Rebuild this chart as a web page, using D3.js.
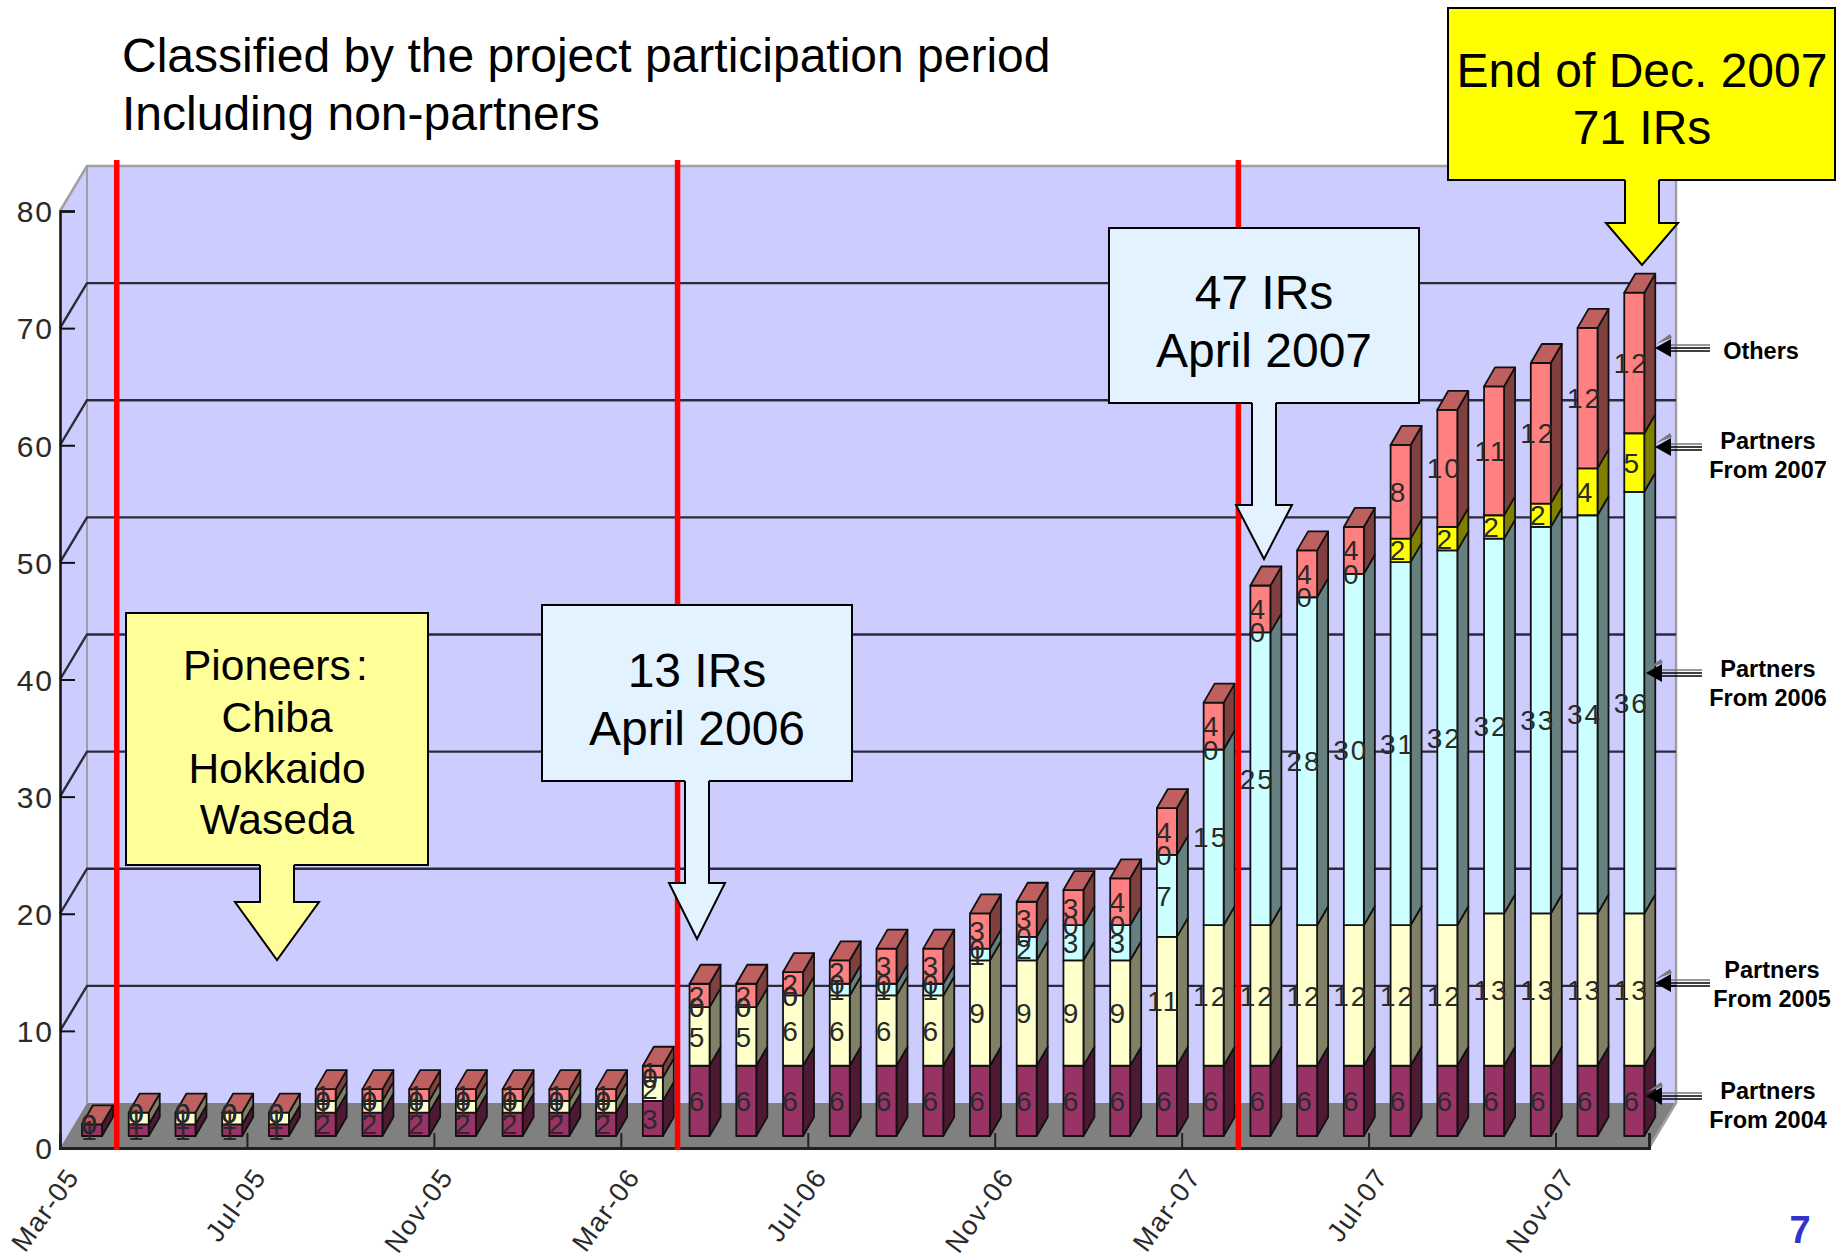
<!DOCTYPE html>
<html>
<head>
<meta charset="utf-8">
<script src="https://cdn.jsdelivr.net/npm/d3@7"></script>
<style>
  html, body { margin: 0; padding: 0; background: #fff; }
  text { font-family: "Liberation Sans", Arial, sans-serif; }
</style>
</head>
<body>
<div id="chart"></div>
<script>
const months = ["Mar-05","Apr-05","May-05","Jun-05","Jul-05","Aug-05","Sep-05","Oct-05","Nov-05","Dec-05","Jan-06","Feb-06",
                "Mar-06","Apr-06","May-06","Jun-06","Jul-06","Aug-06","Sep-06","Oct-06","Nov-06","Dec-06","Jan-07","Feb-07",
                "Mar-07","Apr-07","May-07","Jun-07","Jul-07","Aug-07","Sep-07","Oct-07","Nov-07","Dec-07"];
const from2004 = [1,1,1,1,1,2,2,2,2,2,2,2,3,6,6,6,6,6,6,6,6,6,6,6,6,6,6,6,6,6,6,6,6,6];
const from2005 = [0,1,1,1,1,1,1,1,1,1,1,1,2,5,5,6,6,6,6,9,9,9,9,11,12,12,12,12,12,12,13,13,13,13];
const from2006 = [0,0,0,0,0,0,0,0,0,0,0,0,0,0,0,0,1,1,1,1,2,3,3,7,15,25,28,30,31,32,32,33,34,36];
const from2007 = [0,0,0,0,0,0,0,0,0,0,0,0,0,0,0,0,0,0,0,0,0,0,0,0,0,0,0,0,2,2,2,2,4,5];
const others   = [0,0,0,0,0,1,1,1,1,1,1,1,1,2,2,2,2,3,3,3,3,3,4,4,4,4,4,4,8,10,11,12,12,12];
const seriesNames = ["Partners From 2004","Partners From 2005","Partners From 2006","Partners From 2007","Others"];
const yTicks = [0,10,20,30,40,50,60,70,80];
const xTickMonths = ["Mar-05","Jul-05","Nov-05","Mar-06","Jul-06","Nov-06","Mar-07","Jul-07","Nov-07"];
const milestones = ["Apr-05","Apr-06","Apr-07"];

const chartWidth = 1840;
const chartHeight = 1257;
const wallColor = "#CCCCFF";
const floorColor = "#808080";
const gridColor = "#2b2b3a";
const wallEdge = "#a0a0a0";
const topColor = "#BF6060";
const faces = [
  {front:"#993366", side:"#4D1933"},
  {front:"#FFFFCC", side:"#808066"},
  {front:"#CCFFFF", side:"#668080"},
  {front:"#FFFF00", side:"#808000"},
  {front:"#FF8080", side:"#804040"}
];

const wallDx = 27, wallDy = 45;   // depth of the chart box
const barDx = 11, barDy = 19;     // depth of a bar
const barLift = 12;               // bars stand this far back from the floor's front edge

const x = d3.scaleLinear().domain([0, months.length]).range([60, 1649]);
const y = d3.scaleLinear().domain([0, 80]).range([1148, 211]);
const barWidth = 20;
const barOffset = 22;

const svg = d3.select("#chart").append("svg")
  .attr("width", chartWidth)
  .attr("height", chartHeight)
  .style("display", "block");

const poly = (g, pts, fill, stroke, sw) => g.append("polygon")
  .attr("points", pts.map(p => p.join(",")).join(" "))
  .attr("fill", fill)
  .attr("stroke", stroke || "none")
  .attr("stroke-width", sw || 0)
  .attr("stroke-linejoin", "round");

// box: left wall, back wall, floor
const box = svg.append("g");
const x0 = x(0), x1 = x(months.length);
poly(box, [[x0,y(80)],[x0+wallDx,y(80)-wallDy],[x0+wallDx,y(0)-wallDy],[x0,y(0)]], wallColor);
box.append("rect").attr("x", x0+wallDx).attr("y", y(80)-wallDy)
  .attr("width", x1-x0).attr("height", y(0)-y(80))
  .attr("fill", wallColor);
poly(box, [[x0,y(0)],[x0+wallDx,y(0)-wallDy],[x1+wallDx,y(0)-wallDy],[x1,y(0)]], floorColor);

// wall edges
box.append("path")
  .attr("d", `M${x0},${y(80)}L${x0+wallDx},${y(80)-wallDy}H${x1+wallDx}V${y(0)-wallDy}L${x1},${y(0)}`)
  .attr("fill", "none").attr("stroke", wallEdge).attr("stroke-width", 2.5);
box.append("line")
  .attr("x1", x0+wallDx).attr("x2", x0+wallDx)
  .attr("y1", y(80)-wallDy).attr("y2", y(0)-wallDy)
  .attr("stroke", wallEdge).attr("stroke-width", 2);

// gridlines on the back wall and left wall
svg.append("g").selectAll("path")
  .data(yTicks.filter(d => d > 0 && d < 80))
  .join("path")
  .attr("d", d => `M${x0},${y(d)}L${x0+wallDx},${y(d)-wallDy}H${x1+wallDx}`)
  .attr("fill", "none")
  .attr("stroke", gridColor)
  .attr("stroke-width", 2.4);

// bars, left to right, each stacked from the bottom up
const stacks = months.map((m, i) => [from2004[i], from2005[i], from2006[i], from2007[i], others[i]]);
const barLayer = svg.append("g").attr("stroke-linejoin", "round");
const labelItems = [];
stacks.forEach((vals, i) => {
  const bx = x(i) + barOffset;
  let sum = 0;
  vals.forEach((v, s) => {
    const yb = y(sum) - barLift;
    const yt = y(sum + v) - barLift;
    labelItems.push({x: bx + barWidth / 2 - 3, y: (yb + yt) / 2, v: v, series: seriesNames[s]});
    sum += v;
    if (v === 0) return;
    poly(barLayer, [[bx+barWidth,yb],[bx+barWidth+barDx,yb-barDy],[bx+barWidth+barDx,yt-barDy],[bx+barWidth,yt]], faces[s].side, "#111", 1.8);
    barLayer.append("rect")
      .attr("x", bx).attr("y", yt)
      .attr("width", barWidth).attr("height", yb - yt)
      .attr("fill", faces[s].front)
      .attr("stroke", "#111").attr("stroke-width", 1.8);
  });
  // the lid always belongs to the last series, even when that series is empty
  const yt = y(sum) - barLift;
  poly(barLayer, [[bx,yt],[bx+barDx,yt-barDy],[bx+barWidth+barDx,yt-barDy],[bx+barWidth,yt]], topColor, "#111", 1.8);
});

// value labels
svg.append("g").selectAll("text")
  .data(labelItems)
  .join("text")
  .attr("x", d => d.x)
  .attr("y", d => d.y)
  .attr("dy", "0.36em")
  .attr("text-anchor", "middle")
  .attr("font-size", 28)
  .attr("letter-spacing", d => d.v > 9 ? 2 : 0)
  .attr("fill", "#2a2a2a")
  .text(d => d.v);

// axes
const yAxis = d3.axisLeft(y).tickValues(yTicks).tickSize(-15).tickPadding(6);
const yG = svg.append("g").attr("transform", `translate(${x0},0)`).call(yAxis);
yG.selectAll("text").attr("font-size", 30).attr("fill", "#2a2a2a").attr("letter-spacing", 2).attr("dy", "0.36em").style("font-family", null);
yG.selectAll("line").attr("stroke", "#111").attr("stroke-width", 2);
yG.select(".domain").attr("stroke", "#111").attr("stroke-width", 2.5);

const xAxis = d3.axisBottom(x)
  .tickValues(xTickMonths.map(m => months.indexOf(m)))
  .tickSize(-15)
  .tickFormat(i => months[i]);
const xG = svg.append("g").attr("transform", `translate(0,${y(0)})`).call(xAxis);
xG.select(".domain").attr("stroke", "#222").attr("stroke-width", 3);
xG.selectAll("line").attr("stroke", "#222").attr("stroke-width", 2);
xG.selectAll("text")
  .attr("font-size", 27)
  .attr("letter-spacing", 1.5)
  .attr("fill", "#2a2a2a")
  .attr("text-anchor", "end")
  .attr("y", 0).attr("dy", 0)
  .attr("transform", "translate(20,29) rotate(-54)")
  .style("font-family", null);

// milestone lines
svg.append("g").selectAll("line")
  .data(milestones)
  .join("line")
  .attr("x1", d => x(months.indexOf(d)) + 10)
  .attr("x2", d => x(months.indexOf(d)) + 10)
  .attr("y1", 160)
  .attr("y2", y(0) + 2)
  .attr("stroke", "#FF0000")
  .attr("stroke-width", 5.5);

// callouts
function callout(left, top, width, height, fill, cx, shaftHalf, shaftEnd, headHalf, tipY, lines, baselines, fontSize) {
  const g = svg.append("g");
  const right = left + width, bottom = top + height;
  g.append("path")
    .attr("d", `M${cx-shaftHalf},${bottom}V${shaftEnd}H${cx-headHalf}L${cx},${tipY}L${cx+headHalf},${shaftEnd}H${cx+shaftHalf}V${bottom}`)
    .attr("fill", fill).attr("stroke", "#000").attr("stroke-width", 2);
  g.append("path")
    .attr("d", `M${cx-shaftHalf},${bottom}H${left}V${top}H${right}V${bottom}H${cx+shaftHalf}`)
    .attr("fill", fill).attr("stroke", "#000").attr("stroke-width", 2);
  g.selectAll("text").data(lines).join("text")
    .attr("x", cx)
    .attr("y", (d, i) => baselines[i])
    .attr("text-anchor", "middle")
    .attr("font-size", fontSize)
    .attr("fill", "#000")
    .text(d => d);
  return g;
}
const pioneers = callout(126, 613, 302, 252, "#FFFF99", 277, 17, 902, 42, 960,
  ["Pioneers：","Chiba","Hokkaido","Waseda"], [680,732,783,834], 42.5);
// the colon sits closer in the reference, so tighten that first line
pioneers.select("text").text("Pioneers").attr("text-anchor", "start").attr("x", 183)
  .append("tspan").attr("x", 356).text(":");
callout(542, 605, 310, 176, "#E3F2FF", 697, 12, 883, 28, 939,
  ["13 IRs","April 2006"], [687,745], 48);
callout(1109, 228, 310, 175, "#E3F2FF", 1264, 12, 505, 28, 559,
  ["47 IRs","April 2007"], [309,367], 48);
callout(1448, 8, 387, 172, "#FFFF00", 1642, 17, 223, 36, 265,
  ["End of Dec. 2007","71 IRs"], [87,144], 48);

// title
svg.append("g").selectAll("text")
  .data(["Classified by the project participation period","Including non-partners"])
  .join("text")
  .attr("x", 122)
  .attr("y", (d, i) => 72 + i * 58)
  .attr("font-size", 48)
  .attr("fill", "#000")
  .text(d => d);

// series captions with their little arrows
function caption(lines, cx, baseY, tipX, tailX, arrowY) {
  const g = svg.append("g");
  [-3, 0, 3].forEach(off => {
    g.append("line").attr("x1", tipX + 14).attr("x2", tailX)
      .attr("y1", arrowY + off).attr("y2", arrowY + off)
      .attr("stroke", off < 0 ? "#777" : "#000").attr("stroke-width", 1.6);
  });
  poly(g, [[tipX+1,arrowY-4],[tipX+15,arrowY-14],[tipX+17,arrowY-10]], "#777");
  poly(g, [[tipX,arrowY],[tipX+16,arrowY-9],[tipX+16,arrowY+9]], "#000");
  g.selectAll("text").data(lines).join("text")
    .attr("x", cx)
    .attr("y", (d, i) => baseY + i * 29)
    .attr("text-anchor", "middle")
    .attr("font-size", 23.5)
    .attr("font-weight", "bold")
    .attr("fill", "#000")
    .text(d => d);
}
caption(["Others"], 1761, 359, 1655, 1710, 348);
caption(["Partners","From 2007"], 1768, 449, 1655, 1702, 447);
caption(["Partners","From 2006"], 1768, 677, 1646, 1702, 673);
caption(["Partners","From 2005"], 1772, 978, 1655, 1710, 983);
caption(["Partners","From 2004"], 1768, 1099, 1646, 1702, 1096);

// slide number
svg.append("text")
  .attr("x", 1800).attr("y", 1243)
  .attr("text-anchor", "middle")
  .attr("font-size", 38)
  .attr("font-weight", "bold")
  .attr("fill", "#3333CC")
  .text("7");
</script>
</body>
</html>
